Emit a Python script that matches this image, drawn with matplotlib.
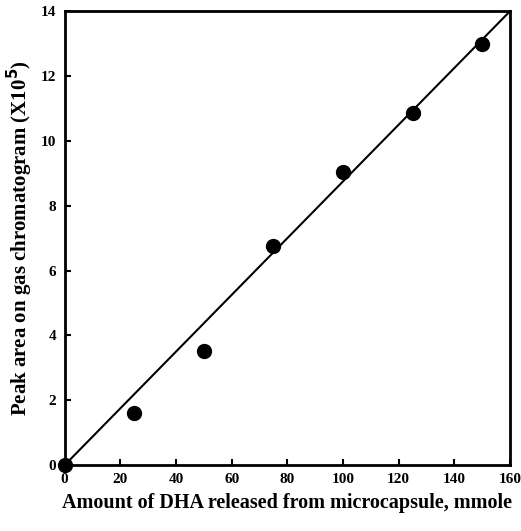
import matplotlib
matplotlib.use("Agg")
import matplotlib.pyplot as plt
import numpy as np

# data
dha = [0, 25, 50, 75, 100, 125, 150]
peak_area = [0.0, 1.62, 3.52, 6.75, 9.05, 10.87, 13.0]
fit_x = [0, 160]
fit_y = [0, 14]

x_ticks = [0, 20, 40, 60, 80, 100, 120, 140, 160]
y_ticks = [0, 2, 4, 6, 8, 10, 12, 14]

plt.rcParams["font.family"] = ["Liberation Serif", "DejaVu Serif"]
plt.rcParams["font.weight"] = "bold"

fig = plt.figure(figsize=(5.21, 5.31), dpi=100)
ax = fig.add_axes([0.124, 0.124, 0.855, 0.855])

ax.plot(fit_x, fit_y, color="black", lw=1.5, zorder=2, clip_on=False)
ax.plot(dha, peak_area, "o", color="black", ms=10, zorder=3, clip_on=False)

ax.set_xlim(0, 160)
ax.set_ylim(0, 14)
ax.set_xticks(x_ticks)
ax.set_yticks(y_ticks)
ax.tick_params(direction="in", length=4, width=1.5, labelsize=11, pad=6)
for lab in ax.get_xticklabels() + ax.get_yticklabels():
    lab.set_fontweight("bold")
for s in ax.spines.values():
    s.set_linewidth(2)

ax.set_xlabel("Amount of DHA released from microcapsule, mmole",
              fontsize=14.5, fontweight="bold", labelpad=5)
ax.set_ylabel("Peak area on gas chromatogram (X10$^{\\mathbf{5}}$)",
              fontsize=15, fontweight="bold", labelpad=4)

plt.savefig("out.png", dpi=100)
plt.close()
